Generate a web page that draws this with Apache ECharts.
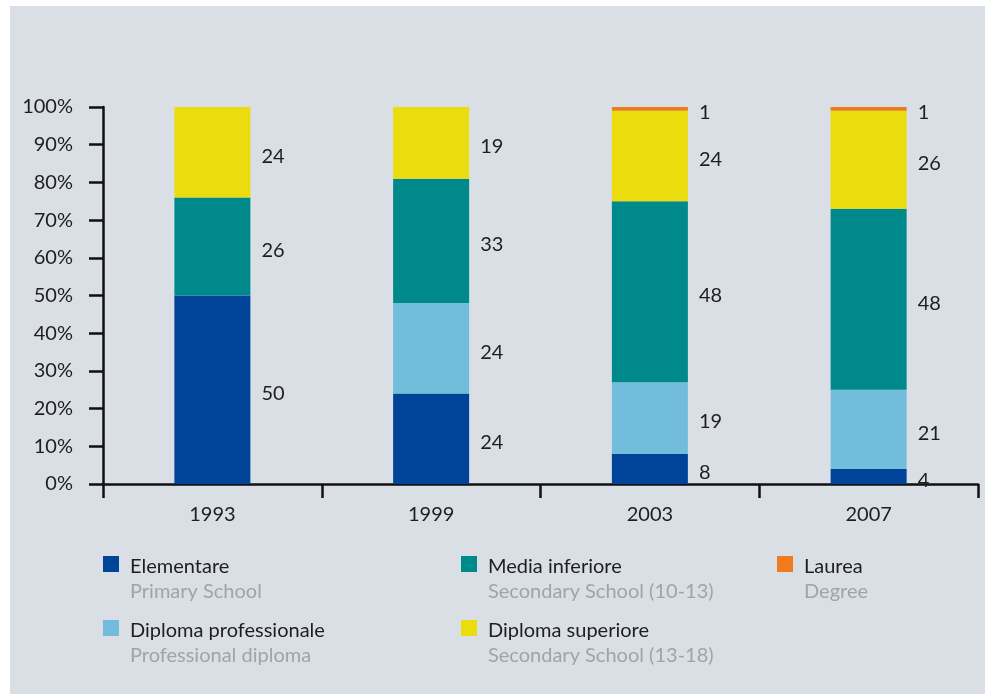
<!DOCTYPE html>
<html>
<head>
<meta charset="utf-8">
<script src="https://cdn.jsdelivr.net/npm/echarts@6/dist/echarts.min.js"></script>
<style>
  html, body { margin: 0; padding: 0; background: #ffffff; }
  #chart { position: absolute; left: 10px; top: 6px; width: 975px; height: 688px; }
</style>
</head>
<body>
<div id="chart"></div>
<script>
// Survey years
const years = ['1993', '1999', '2003', '2007'];

// Share of each education level (%), stacked bottom to top
const elementare = [50, 24, 8, 4];
const diplomaProfessionale = [null, 24, 19, 21];
const mediaInferiore = [26, 33, 48, 48];
const diplomaSuperiore = [24, 19, 24, 26];
const laurea = [null, null, 1, 1];

// Y axis ticks
const yMin = 0, yMax = 100, yStep = 10;

// Series names (Italian) and their English subtitles
const seriesNames = ['Elementare', 'Diploma professionale', 'Media inferiore', 'Diploma superiore', 'Laurea'];
const subtitles = ['Primary School', 'Professional diploma', 'Secondary School (10-13)', 'Secondary School (13-18)', 'Degree'];
const seriesValues = [elementare, diplomaProfessionale, mediaInferiore, diplomaSuperiore, laurea];
const colors = ['#00449a', '#72bcdc', '#00898b', '#ebdc0d', '#ee7b1c'];

const FONT = 'Lato, "Open Sans", sans-serif';
const INK = '#1e1e1e';

const chart = echarts.init(document.getElementById('chart'), null, { renderer: 'canvas' });

const series = seriesNames.map((name, i) => ({
  name: name,
  type: 'bar',
  stack: 'total',
  barWidth: 76,
  itemStyle: { color: colors[i] },
  label: {
    show: true,
    position: 'right',
    distance: 11,
    offset: [0, 4],
    color: INK,
    fontFamily: FONT,
    fontSize: 20,
    formatter: p => (p.value == null ? '' : String(p.value))
  },
  emphasis: { disabled: true },
  data: seriesValues[i]
}));

// One legend block per entry, arranged in three columns
const legendSlots = [
  { left: 93, top: 551 },   // Elementare
  { left: 93, top: 615 },   // Diploma professionale
  { left: 451, top: 551 },  // Media inferiore
  { left: 451, top: 615 },  // Diploma superiore
  { left: 767, top: 551 }   // Laurea
];
const LINE = 25;
const PAD_LINE = 31;
const legends = seriesNames.map((name, i) => ({
  data: [name],
  orient: 'vertical',
  left: legendSlots[i].left,
  top: legendSlots[i].top - 28,
  padding: 0,
  icon: 'rect',
  itemWidth: 16,
  itemHeight: 16,
  selectedMode: false,
  formatter: n => '{pad| }\n{main|' + n + '}\n{sub|' + subtitles[seriesNames.indexOf(n)] + '}',
  textStyle: {
    fontFamily: FONT,
    rich: {
      pad: { fontSize: 20, lineHeight: PAD_LINE, fontFamily: FONT },
      main: { fontSize: 20, lineHeight: LINE, color: INK, fontFamily: FONT, padding: [0, 0, 0, 6] },
      sub: { fontSize: 20, lineHeight: LINE, color: '#a0a4a8', fontFamily: FONT, padding: [0, 0, 0, 6] }
    }
  }
}));

chart.setOption({
  backgroundColor: '#d9dfe5',
  animation: false,
  grid: { left: 93, right: 7, top: 101, bottom: 210, outerBoundsMode: 'none' },
  legend: legends,
  xAxis: {
    type: 'category',
    data: years,
    boundaryGap: true,
    axisLine: { show: true, lineStyle: { color: '#111', width: 2.5 } },
    axisTick: { show: true, interval: 0, length: 14, lineStyle: { color: '#111', width: 2.5 } },
    axisLabel: { margin: 21, color: INK, fontFamily: FONT, fontSize: 20 },
    splitLine: { show: false }
  },
  yAxis: {
    type: 'value',
    min: yMin,
    max: yMax,
    interval: yStep,
    axisLine: { show: true, lineStyle: { color: '#111', width: 2.5 } },
    axisTick: { show: true, length: 14, lineStyle: { color: '#111', width: 2.5 } },
    axisLabel: {
      margin: 30,
      color: INK,
      fontFamily: FONT,
      fontSize: 20,
      padding: [0, 0, 10, 0],
      formatter: '{value}%'
    },
    splitLine: { show: false }
  },
  series: series
});
</script>
</body>
</html>
